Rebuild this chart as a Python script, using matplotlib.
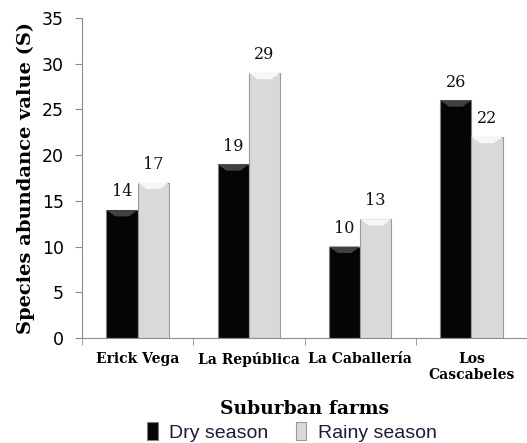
import numpy as np
import matplotlib.pyplot as plt
from matplotlib.patches import Polygon

# data
farms = ['Erick Vega', 'La República', 'La Caballería', 'Los\nCascabeles']
dry = [14, 19, 10, 26]
rainy = [17, 29, 13, 22]
series_names = ['Dry season', 'Rainy season']
yticks = [0, 5, 10, 15, 20, 25, 30, 35]

fig = plt.figure(figsize=(5.27, 4.43), dpi=100)
ax = fig.add_axes([82 / 527, 105 / 443, 445 / 527, 320 / 443])

x = np.arange(len(farms))
w = 0.28
b1 = ax.bar(x - w / 2, dry, w, color='#050505', edgecolor='#7f7f7f', linewidth=0.8, label=series_names[0])
b2 = ax.bar(x + w / 2, rainy, w, color='#d9d9d9', edgecolor='#9a9a9a', linewidth=0.8, label=series_names[1])

# top bevel on each bar
bev = 0.7
for bars, col in ((b1, '#404040'), (b2, '#f6f6f6')):
    for r in bars:
        x0, x1, h = r.get_x(), r.get_x() + r.get_width(), r.get_height()
        ax.add_patch(Polygon([(x0, h), (x1, h), (x1 - w * 0.28, h - bev), (x0 + w * 0.28, h - bev)],
                             closed=True, facecolor=col, edgecolor='none'))

for bars in (b1, b2):
    for r in bars:
        ax.annotate(f'{int(r.get_height())}', (r.get_x() + r.get_width() / 2, r.get_height()),
                    xytext=(0, 7), textcoords='offset points', ha='center', va='bottom',
                    fontsize=11.5, family='DejaVu Serif', color='#111111')

ax.set_xlim(-0.5, 3.45)
ax.set_ylim(0, 35)
ax.set_yticks(yticks)
ax.set_xticks(np.arange(len(farms) + 1) - 0.5, minor=True)
ax.set_xticks(x)
ax.set_xticklabels(farms, fontsize=10, fontweight='bold', family='DejaVu Serif')
ax.tick_params(axis='x', which='major', length=0, pad=10)
ax.tick_params(axis='x', which='minor', length=5, color='#8c8c8c')
ax.tick_params(axis='y', length=5, color='#8c8c8c', labelsize=12.5, pad=8)
for s in ('top', 'right'):
    ax.spines[s].set_visible(False)
for s in ('left', 'bottom'):
    ax.spines[s].set_color('#8c8c8c')

ax.set_ylabel('Species abundance value (S)', fontsize=14, fontweight='bold', family='DejaVu Serif', labelpad=5)
fig.text(305 / 527, 1 - 409 / 443, 'Suburban farms', ha='center', va='center',
         fontsize=13.5, fontweight='bold', family='DejaVu Serif')

fig.legend(handles=[b1, b2], labels=series_names, loc='center', bbox_to_anchor=(292 / 527, 1 - 432 / 443),
           ncol=2, frameon=False, handlelength=0.55, handleheight=1.0, columnspacing=1.4, handletextpad=0.6,
           prop={'family': 'Liberation Sans', 'size': 14}, labelcolor='#1c1c3c')

fig.savefig('out.png', dpi=100)
